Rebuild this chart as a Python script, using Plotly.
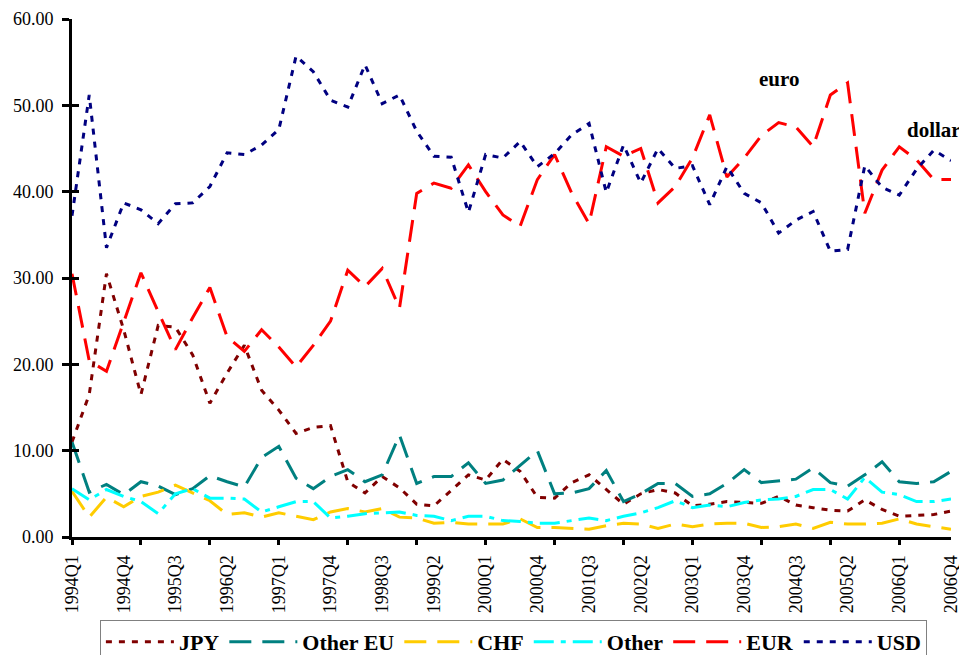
import plotly.graph_objects as go

quarters = [
    "1994Q1", "1994Q2", "1994Q3", "1994Q4", "1995Q1", "1995Q2", "1995Q3", "1995Q4",
    "1996Q1", "1996Q2", "1996Q3", "1996Q4", "1997Q1", "1997Q2", "1997Q3", "1997Q4",
    "1998Q1", "1998Q2", "1998Q3", "1998Q4", "1999Q1", "1999Q2", "1999Q3", "1999Q4",
    "2000Q1", "2000Q2", "2000Q3", "2000Q4", "2001Q1", "2001Q2", "2001Q3", "2001Q4",
    "2002Q1", "2002Q2", "2002Q3", "2002Q4", "2003Q1", "2003Q2", "2003Q3", "2003Q4",
    "2004Q1", "2004Q2", "2004Q3", "2004Q4", "2005Q1", "2005Q2", "2005Q3", "2005Q4",
    "2006Q1", "2006Q2", "2006Q3", "2006Q4",
]

jpy = [11.0, 16.5, 30.5, 24.0, 16.5, 24.5, 24.3, 21.1, 15.5, 19.0, 22.2, 17.0,
       14.7, 12.0, 12.7, 12.9, 6.4, 5.1, 7.0, 5.7, 3.8, 3.6, 5.4, 7.2,
       6.6, 9.0, 7.6, 4.6, 4.5, 6.3, 7.2, 5.5, 3.8, 5.0, 5.5, 5.1,
       3.6, 3.8, 4.1, 4.0, 3.9, 4.7, 3.7, 3.4, 3.1, 3.0, 4.3, 3.2,
       2.4, 2.5, 2.6, 3.0]

other_eu = [11.0, 5.2, 6.1, 4.9, 6.4, 5.9, 4.9, 5.6, 7.1, 6.4, 5.8, 9.2,
            10.5, 6.8, 5.6, 7.0, 7.8, 6.4, 7.2, 11.8, 6.2, 7.0, 7.0, 8.6,
            6.2, 6.6, 8.3, 10.0, 5.0, 5.1, 5.6, 7.7, 4.1, 5.0, 6.2, 6.2,
            4.7, 5.0, 6.2, 7.8, 6.3, 6.5, 6.7, 8.0, 6.3, 5.9, 7.2, 8.7,
            6.4, 6.2, 6.4, 7.6]

chf = [5.3, 2.3, 4.6, 3.5, 4.7, 5.2, 6.0, 5.1, 4.2, 2.6, 2.8, 2.3,
       2.8, 2.4, 2.0, 2.9, 3.3, 2.9, 3.3, 2.3, 2.2, 1.6, 1.7, 1.5,
       1.5, 1.5, 2.1, 1.1, 1.1, 1.0, 0.9, 1.3, 1.6, 1.5, 1.0, 1.5,
       1.2, 1.5, 1.6, 1.6, 1.1, 1.2, 1.5, 1.0, 1.7, 1.5, 1.5, 1.6,
       2.1, 1.5, 1.2, 0.9]

other = [5.6, 4.3, 5.5, 4.7, 4.1, 2.7, 5.0, 5.6, 4.5, 4.5, 4.4, 2.9,
         3.5, 4.1, 4.1, 2.2, 2.4, 2.7, 2.8, 2.9, 2.5, 2.4, 1.9, 2.4,
         2.4, 1.9, 1.8, 1.6, 1.6, 1.9, 2.2, 1.9, 2.4, 2.8, 3.4, 4.2,
         3.4, 3.7, 3.5, 4.0, 4.3, 4.4, 4.7, 5.5, 5.5, 4.4, 6.9, 5.2,
         4.9, 4.1, 4.1, 4.4]

eur = [30.5, 20.4, 19.2, 25.0, 30.6, 26.1, 21.7, 25.4, 28.9, 23.2, 21.5, 24.0,
       22.0, 19.7, 22.2, 25.0, 30.9, 29.0, 31.1, 26.5, 39.8, 41.0, 40.4, 43.1,
       40.0, 37.3, 36.0, 41.4, 44.3, 39.8, 36.3, 45.2, 44.1, 45.0, 38.7, 40.6,
       43.9, 48.9, 41.7, 43.9, 46.5, 48.0, 47.5, 45.2, 51.2, 52.6, 37.5, 42.5,
       45.2, 43.7, 41.4, 41.4]

usd = [37.2, 51.2, 33.5, 38.7, 37.9, 36.3, 38.6, 38.7, 40.6, 44.5, 44.3, 45.4,
       47.2, 55.7, 53.9, 50.6, 49.8, 54.7, 50.2, 51.2, 47.0, 44.1, 44.0, 37.6,
       44.3, 43.9, 45.8, 42.9, 44.4, 46.6, 47.9, 39.9, 45.4, 41.0, 45.0, 42.7,
       43.0, 38.5, 42.9, 39.8, 38.7, 35.2, 36.7, 37.7, 33.1, 33.3, 43.0, 40.5,
       39.6, 42.6, 44.8, 43.6]

label_ticks = quarters[::3]
mark_ticks = list(range(0, 52, 4))

FONT = "'Times New Roman', 'Liberation Serif', serif"

series = [
    ("JPY", jpy, "#800000", "6px,7px"),
    ("Other EU", other_eu, "#008080", "22px,11px"),
    ("CHF", chf, "#FFCC00", "22px,11px"),
    ("Other", other, "#00FFFF", "20px,7px,5px,7px"),
    ("EUR", eur, "#FF0000", "22px,11px"),
    ("USD", usd, "#000080", "6px,7px"),
]

fig = go.Figure()
for name, vals, color, dash in series:
    fig.add_trace(go.Scatter(
        x=quarters, y=vals, name=name, mode="lines",
        line=dict(color=color, width=3, dash=dash),
    ))

# empty helper trace so the tick-mark overlay axes are drawn
fig.add_trace(go.Scatter(x=[], y=[], xaxis="x2", yaxis="y2", showlegend=False,
                         hoverinfo="skip"))

fig.update_layout(
    template="none",
    width=959, height=647,
    margin=dict(l=64, r=16, t=11, b=118),
    paper_bgcolor="white", plot_bgcolor="white",
    font=dict(family=FONT, color="black"),
    xaxis=dict(
        type="category", categoryorder="array", categoryarray=quarters,
        range=[0, 51], tickvals=label_ticks, ticktext=label_ticks,
        tickangle=-90, ticks="", showgrid=False, zeroline=False,
        showline=True, linecolor="black", linewidth=3,
        tickfont=dict(family=FONT, size=18, color="black"),
        automargin=False, ticklabelstandoff=8,
    ),
    xaxis2=dict(
        overlaying="x", anchor="y", range=[0, 51], tickvals=mark_ticks,
        showticklabels=False, ticks="outside", ticklen=7, tickwidth=3,
        tickcolor="black", showgrid=False, zeroline=False, showline=False,
        automargin=False,
    ),
    yaxis=dict(
        range=[0, 60], dtick=10, tick0=0, tickformat=".2f",
        ticks="outside", ticklen=7, tickwidth=3, tickcolor="black",
        showgrid=False, zeroline=False, showline=True, linecolor="black",
        linewidth=3, tickfont=dict(family=FONT, size=18, color="black"),
        automargin=False, ticklabelstandoff=5,
    ),
    yaxis2=dict(
        overlaying="y", anchor="x", range=[0, 60], dtick=10, tick0=0,
        showticklabels=False, ticks="inside", ticklen=7, tickwidth=3,
        tickcolor="black", showgrid=False, zeroline=False, showline=False,
        automargin=False,
    ),
    showlegend=True,
    legend=dict(
        orientation="h", xref="container", yref="container",
        x=0.527, xanchor="center", y=0.054, yanchor="top",
        bordercolor="#808080", borderwidth=1, bgcolor="white",
        font=dict(family=FONT, size=22, color="black", weight="bold"),
        itemwidth=68, traceorder="normal",
    ),
    annotations=[
        dict(x="2004Q2", y=53, xref="x", yref="y", text="euro", showarrow=False,
             font=dict(family=FONT, size=21, color="black", weight="bold")),
        dict(x="2006Q3", y=47.2, xref="x", yref="y", text="dollar", showarrow=False,
             font=dict(family=FONT, size=21, color="black", weight="bold")),
    ],
)

fig.write_html("out.html")
